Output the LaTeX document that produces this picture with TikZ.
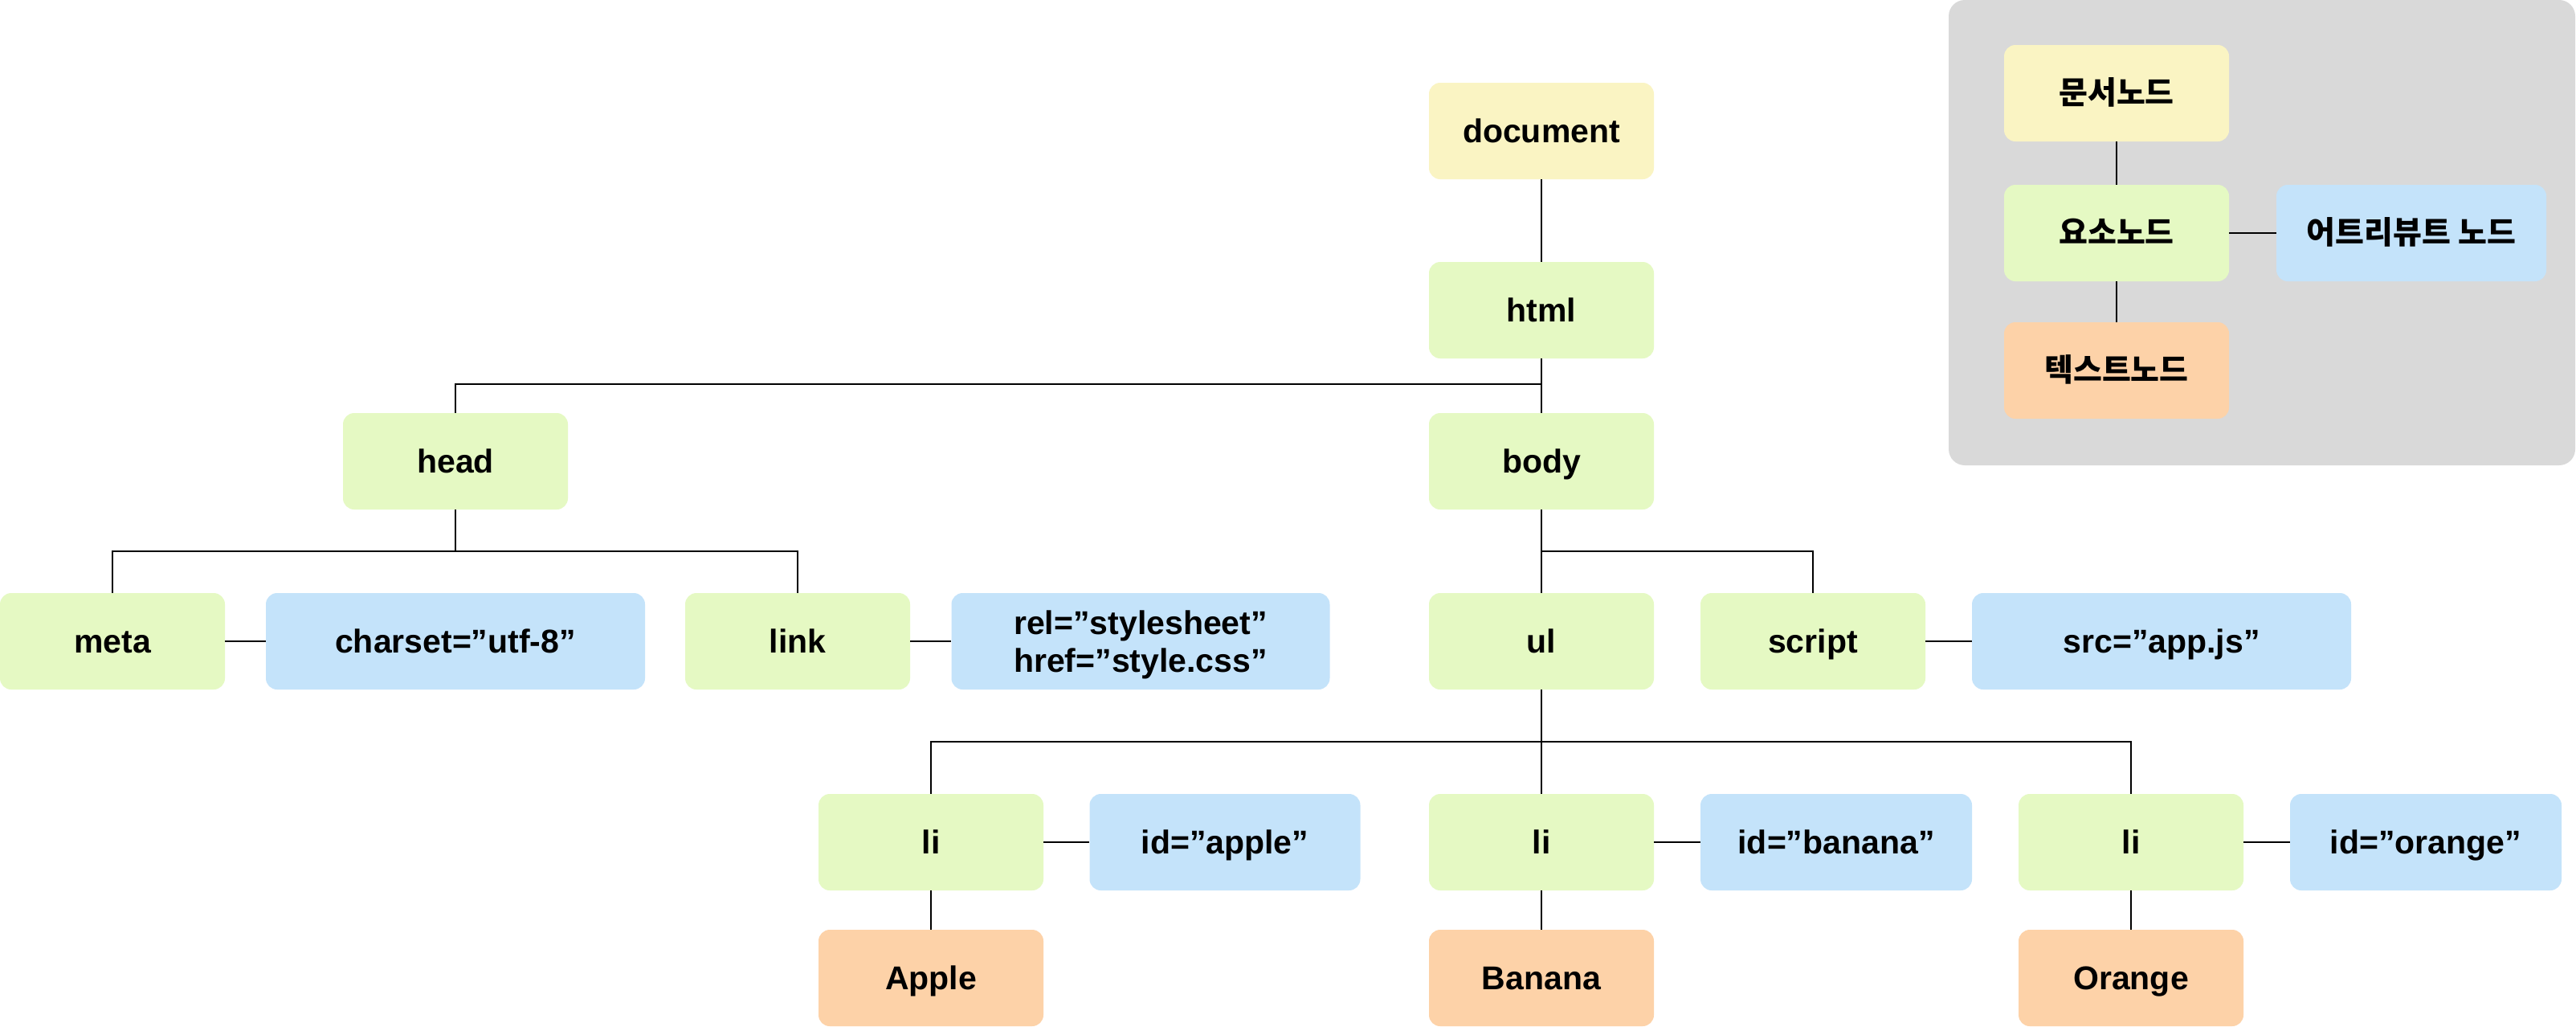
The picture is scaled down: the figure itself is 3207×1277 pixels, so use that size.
\documentclass[tikz,border=0pt]{standalone}
\usepackage{fontspec}
\setmainfont{Liberation Sans}
\newfontfamily\kofont{Noto Sans CJK KR}
\definecolor{docY}{HTML}{FAF4C3}
\definecolor{elemG}{HTML}{E5F9C3}
\definecolor{attrB}{HTML}{C4E3FA}
\definecolor{textO}{HTML}{FDD2A8}
\definecolor{legG}{HTML}{D9D9D9}
\begin{document}
\begin{tikzpicture}[x=1pt,y=-1pt,
  box/.style={rounded corners=14pt, minimum width=280pt, minimum height=120pt, inner sep=0pt,
    font=\fontsize{41}{47}\selectfont\bfseries, align=center, text height=29.5pt, text depth=0pt},
  docbox/.style={box, fill=docY},
  elembox/.style={box, fill=elemG},
  attrbox/.style={box, fill=attrB},
  textbox/.style={box, fill=textO},
  kor/.style={font=\kofont\fontsize{39}{46}\selectfont\bfseries, text height=29pt, text depth=3pt},
  conn/.style={draw=black, line width=2pt}]
\useasboundingbox (0,0) rectangle (3207,1277);
\fill[white] (0,0) rectangle (3207,1277);

% legend
\fill[legG, rounded corners=20pt] (2426,0) rectangle (3206,579);
\node[docbox, kor] (ldoc) at (2635,116) {문서노드};
\node[elembox, kor] (lelem) at (2635,290) {요소노드};
\node[attrbox, kor, minimum width=336pt] (lattr) at (3002,290) {어트리뷰트 노드};
\node[textbox, kor] (ltext) at (2635,461) {텍스트노드};
\draw[conn] (ldoc) -- (lelem);
\draw[conn] (lelem) -- (ltext);
\draw[conn] (lelem) -- (lattr);

% tree
\node[docbox] (doc) at (1919,163) {document};
\node[elembox] (html) at (1919,386) {html};
\node[elembox] (head) at (567,574) {head};
\node[elembox] (body) at (1919,574) {body};
\node[elembox] (meta) at (140,798) {meta};
\node[attrbox, minimum width=472pt] (charset) at (567,798) {charset=”utf-8”};
\node[elembox] (link) at (993,798) {link};
\node[attrbox, minimum width=471pt, text height=76.5pt, text depth=0pt] (rel) at (1420,798) {rel=”stylesheet”\\href=”style.css”};
\node[elembox] (ul) at (1919,798) {ul};
\node[elembox] (script) at (2257,798) {script};
\node[attrbox, minimum width=472pt] (src) at (2691,798) {src=”app.js”};
\node[elembox] (li1) at (1159,1048) {li};
\node[attrbox, minimum width=337pt] (idapple) at (1525,1048) {id=”apple”};
\node[elembox] (li2) at (1919,1048) {li};
\node[attrbox, minimum width=338pt] (idbanana) at (2286,1048) {id=”banana”};
\node[elembox] (li3) at (2653,1048) {li};
\node[attrbox, minimum width=338pt] (idorange) at (3020,1048) {id=”orange”};
\node[textbox] (apple) at (1159,1217) {Apple};
\node[textbox] (banana) at (1919,1217) {Banana};
\node[textbox] (orange) at (2653,1217) {Orange};

\coordinate (hj) at (1919,478);
\coordinate (hdj) at (567,686);
\coordinate (bj) at (1919,686);
\coordinate (uj) at (1919,923);

\draw[conn] (doc) -- (html);
\draw[conn] (html) -- (body);
\draw[conn] (hj) -| (head.north);
\draw[conn] (head.south) -- (hdj);
\draw[conn] (meta.north) |- (hdj) -| (link.north);
\draw[conn] (body) -- (ul);
\draw[conn] (bj) -| (script.north);
\draw[conn] (ul) -- (li2);
\draw[conn] (li1.north) |- (uj) -| (li3.north);
\draw[conn] (meta) -- (charset);
\draw[conn] (link) -- (rel);
\draw[conn] (script) -- (src);
\draw[conn] (li1) -- (idapple);
\draw[conn] (li2) -- (idbanana);
\draw[conn] (li3) -- (idorange);
\draw[conn] (li1) -- (apple);
\draw[conn] (li2) -- (banana);
\draw[conn] (li3) -- (orange);
\end{tikzpicture}
\end{document}
